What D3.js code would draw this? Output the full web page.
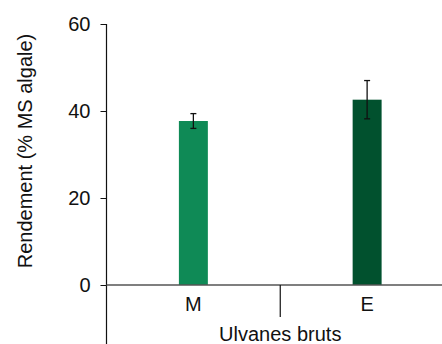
<!DOCTYPE html>
<html>
<head>
<meta charset="utf-8">
<script src="https://cdn.jsdelivr.net/npm/d3@7"></script>
<style>
  html, body { margin: 0; padding: 0; background: #fff; }
  svg { display: block; font-family: "Liberation Sans", Arial, Helvetica, sans-serif; }
</style>
</head>
<body>
<svg id="chart" width="442" height="344"></svg>
<script>
// Rendement par type d'extraction (M, E) des ulvanes bruts
const categories = ["M", "E"];
const values = [37.7, 42.6];
const errors = [1.7, 4.4];
const barColors = ["#0f8a56", "#01512e"];
const yTicks = [0, 20, 40, 60];
const groupLabel = "Ulvanes bruts";
const yLabel = "Rendement (% MS algale)";

const svg = d3.select("#chart");
const W = 442, H = 344;
const x0 = 106.5, x1 = 454;
const yTop = 24, yZero = 285;

const y = d3.scaleLinear().domain([0, 60]).range([yZero, yTop]);
const x = d3.scaleBand().domain(categories).range([x0, x1]).padding(0);
const barW = x.step() / 6;

// bars
svg.append("g").selectAll("rect")
  .data(categories)
  .join("rect")
  .attr("x", (d) => x(d) + x.bandwidth() / 2 - barW / 2)
  .attr("width", barW)
  .attr("y", (d, i) => y(values[i]))
  .attr("height", (d, i) => y(0) - y(values[i]))
  .attr("fill", (d, i) => barColors[i]);

// error bars
const eb = svg.append("g").attr("stroke", "#111").attr("stroke-width", 1.3);
categories.forEach((c, i) => {
  const cx = x(c) + x.bandwidth() / 2;
  const hi = y(values[i] + errors[i]);
  const lo = y(values[i] - errors[i]);
  eb.append("line").attr("x1", cx).attr("x2", cx).attr("y1", hi).attr("y2", lo);
  eb.append("line").attr("x1", cx - 3).attr("x2", cx + 3).attr("y1", hi).attr("y2", hi);
  eb.append("line").attr("x1", cx - 3).attr("x2", cx + 3).attr("y1", lo).attr("y2", lo);
});

// y axis
const yAxis = d3.axisLeft(y).tickValues(yTicks).tickSize(6).tickPadding(10).tickSizeOuter(0);
const gy = svg.append("g").attr("transform", `translate(${x0},0)`).call(yAxis);
gy.select(".domain").remove();
gy.selectAll(".tick line").attr("stroke", "#111");
gy.selectAll(".tick text").attr("font-size", 20).attr("fill", "#111")
  .attr("font-family", "Liberation Sans, Arial, sans-serif");
svg.append("line")
  .attr("x1", x0).attr("x2", x0).attr("y1", y(60)).attr("y2", H)
  .attr("stroke", "#111").attr("stroke-width", 1.2);

// zero line
svg.append("line")
  .attr("x1", x0).attr("x2", W).attr("y1", yZero).attr("y2", yZero)
  .attr("stroke", "#555").attr("stroke-width", 1.3);

// group divider
svg.append("line")
  .attr("x1", x(categories[1])).attr("x2", x(categories[1]))
  .attr("y1", yZero).attr("y2", yZero + 32)
  .attr("stroke", "#111").attr("stroke-width", 1.2);

// category labels
svg.append("g").selectAll("text")
  .data(categories)
  .join("text")
  .attr("x", (d) => x(d) + x.bandwidth() / 2)
  .attr("y", 310.5)
  .attr("text-anchor", "middle")
  .attr("font-size", 20)
  .attr("fill", "#111")
  .text((d) => d);

svg.append("text")
  .attr("x", x(categories[1]))
  .attr("y", 341)
  .attr("text-anchor", "middle")
  .attr("font-size", 20)
  .attr("fill", "#111")
  .text(groupLabel);

svg.append("text")
  .attr("transform", `translate(32,151) rotate(-90)`)
  .attr("text-anchor", "middle")
  .attr("font-size", 20)
  .attr("fill", "#111")
  .text(yLabel);
</script>
</body>
</html>
